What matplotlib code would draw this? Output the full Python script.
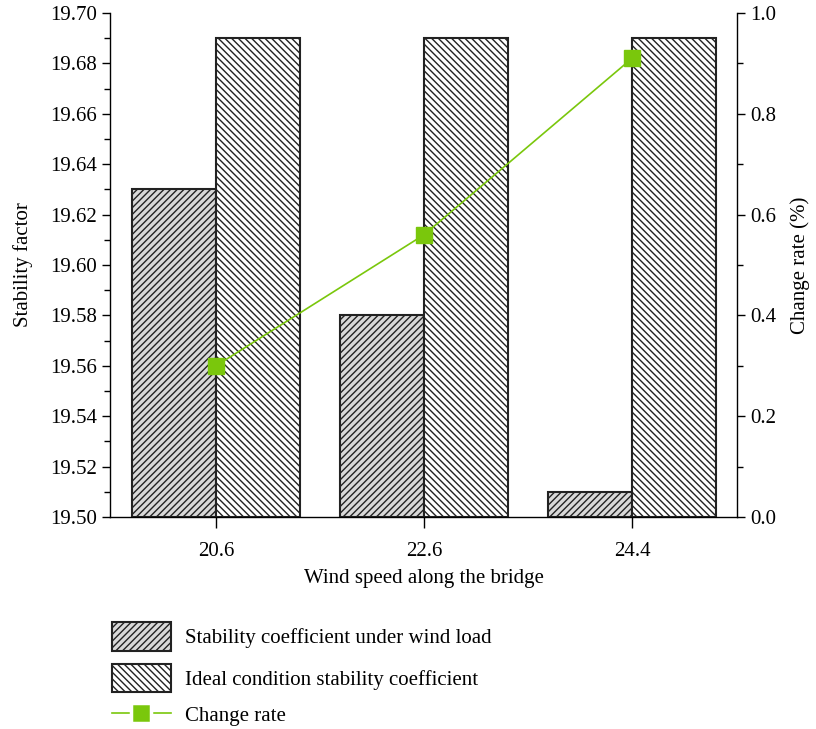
import numpy as np
import matplotlib.pyplot as plt
from matplotlib.patches import Patch
from matplotlib.lines import Line2D
from matplotlib.ticker import MultipleLocator

plt.rcParams['font.family'] = ['Liberation Serif', 'DejaVu Serif']
plt.rcParams['hatch.linewidth'] = 1.0

wind_speed = ['20.6', '22.6', '24.4']
wind_load = [19.63, 19.58, 19.51]
ideal = [19.69, 19.69, 19.69]
change_rate = [0.30, 0.56, 0.91]

green = '#7ac70c'
edge = '#222222'

fig = plt.figure(figsize=(8.16, 7.29), dpi=100)
ax = fig.add_axes([0.1348, 0.2908, 0.7684, 0.6914])

x = np.arange(len(wind_speed))
w = 0.404
ax.bar(x - w / 2, np.array(wind_load) - 19.5, w, bottom=19.5,
       color='#d8d8d8', edgecolor=edge, hatch='/////', linewidth=1.5)
ax.bar(x + w / 2, np.array(ideal) - 19.5, w, bottom=19.5,
       color='white', edgecolor=edge, hatch='\\\\\\\\\\', linewidth=1.5)

ax.set_xlim(-0.51, 2.505)
ax.set_ylim(19.5, 19.7)
ax.set_xticks(x)
ax.set_xticklabels(wind_speed)
ax.yaxis.set_major_locator(MultipleLocator(0.02))
ax.yaxis.set_minor_locator(MultipleLocator(0.01))
ax.yaxis.set_major_formatter(plt.FormatStrFormatter('%.2f'))
ax.spines['top'].set_visible(False)
ax.spines['right'].set_visible(False)
for s in ['left', 'bottom']:
    ax.spines[s].set_linewidth(1.0)
ax.tick_params(axis='both', direction='out', labelsize=15, length=6, width=1)
ax.tick_params(axis='x', length=8, pad=10)
ax.tick_params(axis='y', which='minor', length=4, width=1)
ax.set_xlabel('Wind speed along the bridge', fontsize=15, labelpad=6)
ax.set_ylabel('Stability factor', fontsize=15, labelpad=12)

ax2 = ax.twinx()
ax2.plot(x, change_rate, color=green, linewidth=1.2, marker='s',
         markersize=11.5, markerfacecolor=green, markeredgecolor=green)
ax2.set_ylim(0, 1.0)
ax2.yaxis.set_major_locator(MultipleLocator(0.2))
ax2.yaxis.set_minor_locator(MultipleLocator(0.1))
ax2.yaxis.set_major_formatter(plt.FormatStrFormatter('%.1f'))
for s in ['top', 'left', 'bottom']:
    ax2.spines[s].set_visible(False)
ax2.spines['right'].set_linewidth(1.0)
ax2.tick_params(axis='y', direction='out', labelsize=15, length=6, width=1)
ax2.tick_params(axis='y', which='minor', length=4, width=1)
ax2.set_ylabel('Change rate (%)', fontsize=15, labelpad=10)

# legend: two hatched boxes, then the line entry on a tighter row
bar_handles = [
    Patch(facecolor='#d8d8d8', edgecolor=edge, hatch='/////', linewidth=1.5),
    Patch(facecolor='white', edgecolor=edge, hatch='\\\\\\\\\\', linewidth=1.5),
]
bar_labels = ['Stability coefficient under wind load',
              'Ideal condition stability coefficient']
fig.legend(bar_handles, bar_labels, loc='upper left',
           bbox_to_anchor=(0.137, 0.147), frameon=False, fontsize=15,
           handlelength=2.83, handleheight=1.75, labelspacing=0.62,
           handletextpad=0.67, borderaxespad=0, borderpad=0)

line_handle = Line2D([], [], color=green, linewidth=1.2, marker='s',
                     markersize=14, markerfacecolor=green,
                     markeredgecolor='white', markeredgewidth=2.5)
fig.legend([line_handle], ['Change rate'], loc='center left',
           bbox_to_anchor=(0.137, 0.018), frameon=False, fontsize=15,
           handlelength=2.83, handletextpad=0.67, borderaxespad=0,
           borderpad=0)

fig.savefig('out.png', dpi=100)
